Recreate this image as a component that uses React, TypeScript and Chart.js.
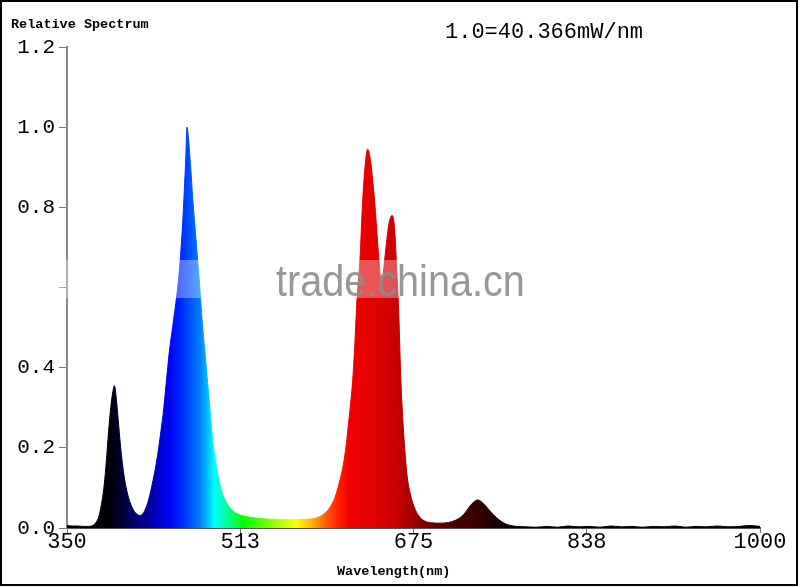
import React, { useEffect, useRef } from "react";
import { Chart, registerables } from "chart.js";

Chart.register(...registerables);

const wavelengths: number[] = [
  350, 355, 360, 365, 370, 374, 377, 380, 383, 385, 387, 389, 391, 393, 394.5, 396, 398, 400, 402, 404,
  407, 410, 413, 416, 418, 421, 424, 427, 430, 433, 436, 438, 440, 443, 446, 449, 452, 455, 458, 460, 461.5,
  462.5, 464, 466, 468, 471, 474, 477, 480, 482, 485, 487, 490, 492, 495, 499, 503, 508, 513, 519, 527,
  540, 555, 570, 580, 586, 590, 594, 597, 600, 603, 606, 609, 612, 614, 616, 618, 620, 622, 625, 627, 629.5,
  632, 634.5, 637, 639, 642, 645, 648, 650, 652, 655, 657.5, 659, 661, 663, 665, 667, 669, 672, 676, 680,
  685, 692, 700, 708, 715, 720, 724, 728, 732, 735, 738, 742, 746, 750, 755, 760, 765, 772, 780, 790,
  800, 810, 820, 830, 840, 850, 860, 870, 880, 890, 900, 910, 920, 930, 940, 950, 960, 970, 980, 990, 1000,
];

const relativeValues: number[] = [
  0.006, 0.005, 0.005, 0.004, 0.004, 0.006, 0.013, 0.03, 0.07, 0.11, 0.17, 0.24, 0.3, 0.34, 0.355, 0.33, 0.27, 0.21, 0.16, 0.122,
  0.083, 0.058, 0.042, 0.034, 0.031, 0.035, 0.05, 0.075, 0.11, 0.15, 0.2, 0.24, 0.28, 0.36, 0.44, 0.5, 0.56, 0.63, 0.74, 0.84, 0.93,
  1.0, 0.97, 0.9, 0.82, 0.72, 0.62, 0.51, 0.42, 0.36, 0.27, 0.21, 0.155, 0.125, 0.092, 0.066, 0.05, 0.038, 0.032, 0.028, 0.025,
  0.022, 0.021, 0.021, 0.023, 0.027, 0.033, 0.042, 0.053, 0.068, 0.09, 0.12, 0.155, 0.21, 0.26, 0.31, 0.37, 0.46, 0.57, 0.68, 0.8, 0.9,
  0.945, 0.92, 0.86, 0.8, 0.69, 0.61, 0.67, 0.72, 0.76, 0.78, 0.74, 0.66, 0.55, 0.38, 0.27, 0.19, 0.13, 0.085, 0.05, 0.03,
  0.018, 0.013, 0.012, 0.014, 0.02, 0.029, 0.04, 0.055, 0.066, 0.07, 0.067, 0.057, 0.045, 0.033, 0.021, 0.012, 0.007, 0.004, 0.003, 0.002,
  0.004, 0.002, 0.005, 0.003, 0.004, 0.002, 0.005, 0.003, 0.004, 0.002, 0.004, 0.003, 0.005, 0.002, 0.004, 0.003, 0.005, 0.003, 0.004, 0.006, 0.004,
];

const xTickValues: number[] = [350, 512.5, 675, 837.5, 1000];
const xTickLabels: string[] = ["350", "513", "675", "838", "1000"];
const yTickValues: number[] = [0, 0.2, 0.4, 0.6, 0.8, 1.0, 1.2];
const yTickLabels: string[] = ["0.0", "0.2", "0.4", "", "0.8", "1.0", "1.2"];

const spectrumStops: number[] = [350, 390, 400, 415, 430, 445, 455, 465, 475, 482, 488, 500, 515, 540, 565, 580, 592, 605, 615, 640, 660, 675, 690, 710, 735, 755, 770, 1000];
const spectrumColors: string[] = [
  "#000000", "#000008", "#000030", "#000070", "#0000b0", "#0000f0", "#0020ff", "#0050ff", "#0080ff", "#00c0ff",
  "#00ffff", "#00ffa0", "#00ff00", "#80ff00", "#ffff00", "#ffb000", "#ff6000", "#ff2000", "#f00000", "#e00000",
  "#c80000", "#a00000", "#700000", "#500000", "#380000", "#100000", "#000000", "#000000",
];

const titleText = "Relative Spectrum";
const unitText = "1.0=40.366mW/nm";
const xAxisTitle = "Wavelength(nm)";
const watermarkText = "trade.china.cn";

function spectrumGradient(context: any) {
  const chart = context.chart;
  const xs = chart.scales && chart.scales.x;
  if (!chart.chartArea || !xs) return "#000";
  const x0 = xs.getPixelForValue(350);
  const x1 = xs.getPixelForValue(1000);
  const g = chart.ctx.createLinearGradient(x0, 0, x1, 0);
  spectrumStops.forEach((w, i) => {
    g.addColorStop((w - 350) / 650, spectrumColors[i]);
  });
  return g;
}

const textPlugin = {
  id: "texts",
  afterDraw(chart: any) {
    const ctx = chart.ctx as CanvasRenderingContext2D;
    ctx.save();
    // faded band behind the watermark
    ctx.fillStyle = "rgba(255,255,255,0.33)";
    ctx.fillRect(2, 260, 794, 38);
    // watermark
    ctx.save();
    ctx.fillStyle = "rgba(140,140,140,0.9)";
    ctx.font = '40px "Liberation Sans"';
    ctx.textBaseline = "alphabetic";
    ctx.translate(276, 296);
    ctx.scale(0.99, 1.12);
    ctx.fillText(watermarkText, 0, 0);
    ctx.restore();
    // texts
    ctx.fillStyle = "#000";
    ctx.textBaseline = "alphabetic";
    ctx.font = 'bold 13.5px "Liberation Mono"';
    ctx.fillText(titleText, 11, 28);
    ctx.font = '22px "Liberation Mono"';
    ctx.fillText(unitText, 445, 38);
    ctx.font = 'bold 13.5px "Liberation Mono"';
    ctx.fillText(xAxisTitle, 337, 575);
    // outer frame
    ctx.strokeStyle = "#000";
    ctx.lineWidth = 2;
    ctx.strokeRect(1, 1, 796, 584);
    ctx.restore();
  },
};

export default function App() {
  const canvasRef = useRef<HTMLCanvasElement | null>(null);

  useEffect(() => {
    document.body.style.margin = "0";
    const canvas = canvasRef.current;
    if (!canvas) return;
    const data = wavelengths.map((w, i) => ({ x: w, y: relativeValues[i] }));
    const chart = new Chart(canvas, {
      type: "line",
      data: {
        datasets: [
          {
            data,
            fill: "origin",
            backgroundColor: spectrumGradient,
            borderColor: spectrumGradient,
            borderWidth: 1,
            pointRadius: 0,
            cubicInterpolationMode: "monotone",
          } as any,
        ],
      },
      options: {
        animation: false,
        responsive: false,
        maintainAspectRatio: false,
        layout: { padding: { left: 0, right: 40, top: 47, bottom: 0 } },
        plugins: {
          legend: { display: false },
          tooltip: { enabled: false },
          title: { display: false },
        },
        scales: {
          x: {
            type: "linear",
            min: 350,
            max: 1000,
            afterBuildTicks: (scale: any) => {
              scale.ticks = xTickValues.map((v) => ({ value: v }));
            },
            afterFit: (scale: any) => {
              scale.height = 59;
            },
            ticks: {
              autoSkip: false,
              maxRotation: 0,
              padding: -2,
              color: "#000",
              font: { family: "Liberation Mono", size: 22, lineHeight: 1 },
              callback: (value: any) => {
                const i = xTickValues.indexOf(Number(value));
                return i >= 0 ? xTickLabels[i] : "";
              },
            },
            grid: { drawOnChartArea: false, drawTicks: true, tickLength: 5, color: "#777", lineWidth: 1 },
            border: { display: true, color: "#555", width: 2 },
          },
          y: {
            type: "linear",
            min: 0,
            max: 1.2,
            afterBuildTicks: (scale: any) => {
              scale.ticks = yTickValues.map((v) => ({ value: v }));
            },
            afterFit: (scale: any) => {
              scale.width = 67;
            },
            ticks: {
              autoSkip: false,
              padding: 4,
              color: "#000",
              font: { family: "Liberation Mono", size: 21 },
              callback: (value: any) => {
                const i = yTickValues.findIndex((v) => Math.abs(v - Number(value)) < 1e-6);
                return i >= 0 ? yTickLabels[i] : "";
              },
            },
            grid: { drawOnChartArea: false, drawTicks: true, tickLength: 8, color: "#777", lineWidth: 1 },
            border: { display: true, color: "#888", width: 2 },
          },
        },
      },
      plugins: [textPlugin],
    });
    return () => chart.destroy();
  }, []);

  return (
    <div style={{ width: 800, height: 587, background: "#fff" }}>
      <canvas ref={canvasRef} width={800} height={587} style={{ display: "block" }} />
    </div>
  );
}
